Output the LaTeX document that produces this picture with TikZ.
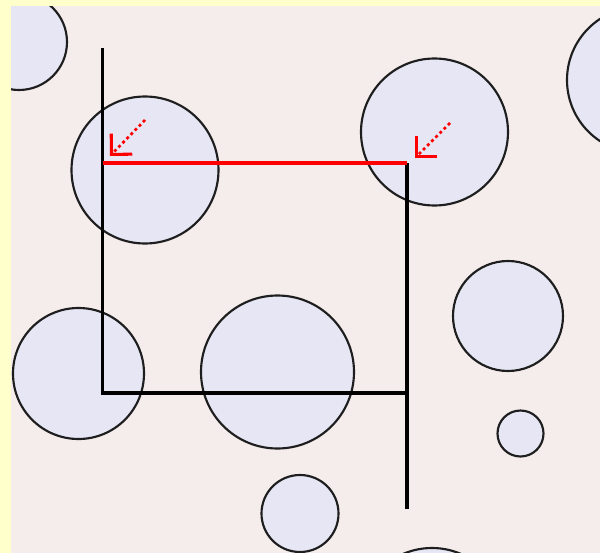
\documentclass[tikz,border=0pt]{standalone}
\usepackage{tikz}
\usetikzlibrary{arrows.meta}
\usepackage{xcolor}
\definecolor{paleyellow}{RGB}{255,255,204}
\definecolor{pinkbg}{RGB}{245,236,236}
\definecolor{lavender}{RGB}{230,230,245}
\definecolor{rimgray}{RGB}{30,30,30}
\tikzset{
    bubble/.style={fill=lavender, draw=rimgray, line width=1.6pt},
    frame/.style={line width=2.6pt, black},
    redline/.style={line width=2.4pt, red},
    pointer/.style={red, line width=2pt, dash pattern=on 2.2pt off 2.2pt,
        -{Straight Barb[length=11pt,width=22pt,line width=2.3pt]}}
}

\begin{document}
\begin{tikzpicture}[x=0.75pt, y=-0.75pt]
                % Background
                \fill[paleyellow] (0,0) rectangle (600,553);
                \fill[pinkbg] (11,6) rectangle (600,553);
                \useasboundingbox (0,0) rectangle (600,553);

                \begin{scope}
                \clip (11,6) rectangle (600,553);
                % Bubbles
                \draw[bubble] (19,42) circle (48);
                \draw[bubble] (145,170) circle (73.5);
                \draw[bubble] (434.5,132) circle (73.5);
                \draw[bubble] (640,80) circle (73);
                \draw[bubble] (78.5,373.5) circle (65.5);
                \draw[bubble] (277.5,372) circle (76.5);
                \draw[bubble] (508,316) circle (55);
                \draw[bubble] (520.5,433.5) circle (23);
                \draw[bubble] (300,513.5) circle (38.5);
                \draw[bubble] (432,621) circle (73);
                \end{scope}

                % Frame corners
                \coordinate (top left) at (102.5,48);
                \coordinate (corner a) at (102.5,163);
                \coordinate (corner b) at (407,163);
                \coordinate (corner c) at (407,393);
                \coordinate (corner d) at (102.5,393);
                \coordinate (bottom right) at (407,509);

                % Black frame
                \draw[frame] (top left) -- (corner d) -- (corner c);
                \draw[frame] (corner b) -- (bottom right);

                % Red edge
                \draw[redline] (corner a) -- (corner b);

                % Pointers
                \draw[pointer] (145,120) -- (110,156);
                \draw[pointer] (450,123) -- (415,158);
\end{tikzpicture}
\end{document}
